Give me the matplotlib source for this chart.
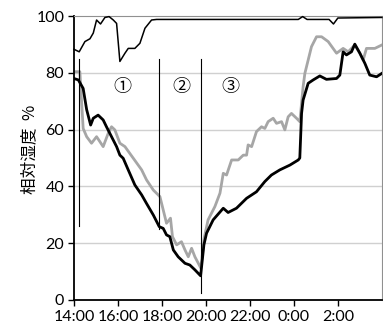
# Relative humidity over one night, three sensors, phases marked ①②③
import matplotlib
matplotlib.use("Agg")
import matplotlib.pyplot as plt

# hours after 14:00
thin_t = [0.0, 0.24, 0.5, 0.73, 0.88, 1.03, 1.21, 1.41, 1.6, 1.79, 1.94, 2.09, 2.32, 2.47,
          2.77, 3.0, 3.23, 3.53, 3.76, 10.2, 10.4, 10.6, 11.6, 11.8, 12.0, 14.0]
thin_v = [88.3, 87.4, 91, 92, 94, 98.6, 97.2, 99.5, 99.8, 98.6, 97.4, 84, 86.9, 88.6,
          88.6, 90.4, 95.7, 98.6, 98.8, 98.8, 99.8, 98.8, 98.8, 97.2, 99.3, 99.5]

black_t = [0.0, 0.2, 0.42, 0.58, 0.76, 0.88, 1.1, 1.33, 1.48, 1.71, 1.94, 2.09, 2.24, 2.47,
           2.77, 3.08, 3.3, 3.61, 3.88, 4.06, 4.21, 4.36, 4.52, 4.74, 5.05, 5.27, 5.5, 5.76,
           5.91, 6.03, 6.33, 6.79, 7.01, 7.39, 7.85, 8.3, 8.68, 8.98, 9.36, 9.82, 10.2, 10.27,
           10.35, 10.42, 10.65, 10.88, 11.18, 11.48, 11.94, 12.09, 12.24, 12.39, 12.62, 12.77,
           13.0, 13.23, 13.45, 13.76, 14.0]
black_v = [78, 77.5, 74.5, 67, 61.6, 64, 65.1, 63.4, 61, 57.5, 54, 51, 49.9, 45.8,
           40.5, 37, 34, 29.9, 25.8, 25.2, 22.9, 22.3, 17.6, 15.2, 12.9, 12.3, 10.6, 8.5,
           19.4, 23.5, 28.2, 32.3, 30.8, 32.3, 35.8, 38.1, 41.7, 44, 45.8, 47.5, 49.3, 50,
           65.7, 70.4, 76.3, 77.5, 78.9, 77.7, 78, 79.2, 87.4, 86.3, 87.4, 90.1,
           86.9, 83.3, 79.2, 78.6, 79.8]

gray_t = [0.0, 0.27, 0.42, 0.58, 0.8, 1.03, 1.33, 1.56, 1.71, 1.86, 2.09, 2.32, 2.7, 3.08,
          3.3, 3.61, 3.91, 4.06, 4.21, 4.39, 4.48, 4.67, 4.89, 5.05, 5.2, 5.35, 5.5, 5.77,
          5.92, 6.1, 6.41, 6.64, 6.79, 6.94, 7.17, 7.47, 7.7, 7.85, 7.92, 8.08, 8.3, 8.53,
          8.68, 8.83, 9.06, 9.21, 9.44, 9.59, 9.74, 9.89, 10.12, 10.27, 10.42, 10.5, 10.65,
          10.8, 11.03, 11.26, 11.56, 11.94, 12.24, 12.47, 12.62, 12.77, 13.0, 13.15, 13.3,
          13.68, 14.0]
gray_v = [80.4, 80.4, 60.4, 57.5, 55.2, 57.5, 54, 58.7, 61, 59.9, 55.2, 54, 49.9, 45.8,
          42.3, 38.7, 36.4, 31.7, 27, 28.8, 22.3, 19.4, 20.5, 17.6, 15.2, 18.2, 15.2, 11.2,
          21.7, 28.2, 32.9, 37.6, 44.6, 44, 49.3, 49.3, 51, 51, 54.6, 54, 59.3, 61,
          60.4, 62.8, 64, 62.2, 62.8, 59.9, 64.5, 65.7, 64, 62.8, 75.1, 79.8, 84.5,
          89.2, 92.7, 92.7, 91, 86.9, 88.6, 87.4, 88.6, 89.8, 86.9, 84.5, 88.6,
          88.6, 89.8]

# phase boundary lines: (x, bottom, top)
phase_lines = [(0.24, 26, 85), (3.88, 25, 85), (5.76, 2.5, 85)]
phase_labels = ["①", "②", "③"]
phase_label_x = [2.2, 4.9, 7.1]

xticks = [0, 2, 4, 6, 8, 10, 12]
xticklabels = ["14:00", "16:00", "18:00", "20:00", "22:00", "0:00", "2:00"]

fig = plt.figure(figsize=(3.83, 3.34), dpi=100)
ax = fig.add_axes([0.193, 0.102, 0.804, 0.850])

for y in [20, 40, 60, 80]:
    ax.axhline(y, color="#d0d0d0", lw=1.0, zorder=0)

ax.plot(thin_t, thin_v, color="black", lw=1.1, zorder=3, clip_on=False)
ax.plot(gray_t, gray_v, color="#a6a6a6", lw=2.0, zorder=2)
ax.plot(black_t, black_v, color="black", lw=2.0, zorder=3)

for x, lo, hi in phase_lines:
    ax.plot([x, x], [lo, hi], color="black", lw=0.8, zorder=4)
for x, s in zip(phase_label_x, phase_labels):
    ax.text(x, 75, s, ha="center", va="center", fontsize=13,
            family=["Noto Sans CJK JP", "DejaVu Sans"])

ax.set_xlim(0, 14)
ax.set_ylim(0, 100)
ax.set_yticks([0, 20, 40, 60, 80, 100])
ax.set_xticks(xticks)
ax.set_xticklabels(xticklabels)
ax.tick_params(direction="out", length=4, width=1, labelsize=11.5, pad=3)
for lab in ax.get_xticklabels() + ax.get_yticklabels():
    lab.set_family("Lato")

ax.spines["left"].set_linewidth(1.3)
ax.spines["bottom"].set_linewidth(1.3)
ax.spines["top"].set_color("#909090")
ax.spines["right"].set_color("#909090")

ax.set_ylabel("相対湿度  %", family=["Noto Sans CJK JP", "DejaVu Sans"], fontsize=12)
ax.yaxis.set_label_coords(-0.115, 0.53)

fig.savefig("out.png", dpi=100)
